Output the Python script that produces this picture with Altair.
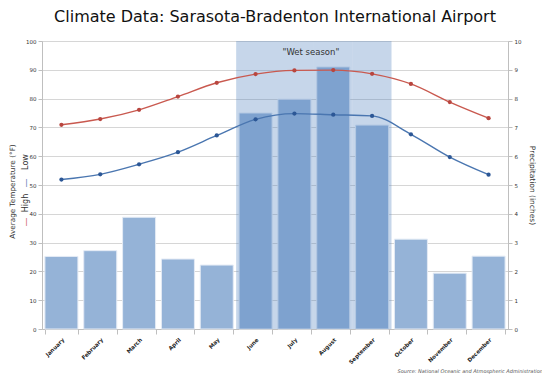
import altair as alt
import pandas as pd

months = ["January", "February", "March", "April", "May", "June",
          "July", "August", "September", "October", "November", "December"]
high = [70.9, 72.9, 76.1, 80.7, 85.5, 88.5, 89.8, 89.9, 88.6, 85.1, 78.8, 73.2]
low = [51.9, 53.7, 57.2, 61.4, 67.2, 72.8, 74.8, 74.4, 74.0, 67.6, 59.7, 53.6]
precip = [2.52, 2.72, 3.88, 2.43, 2.22, 7.50, 7.98, 9.10, 7.08, 3.12, 1.94, 2.53]
wet_months = ["June", "July", "August", "September"]

FONT = "DejaVu Sans"
PAD_IN = 0.15

df = pd.DataFrame({"month": months, "high": high, "low": low, "precip": precip})
long = pd.DataFrame({
    "month": months * 2,
    "temp": high + low,
    "series": ["High"] * 12 + ["Low"] * 12,
})
wet = pd.DataFrame({"month": wet_months, "top": [100] * 4})

xscale = alt.Scale(domain=months, paddingInner=PAD_IN, paddingOuter=PAD_IN / 2)
xenc = alt.X("month:N", scale=xscale, sort=months, title=None,
             axis=alt.Axis(labelAngle=-45, labelFontSize=5.5, labelFontWeight="bold",
                           labelColor="#222", labelFont=FONT, tickBand="extent",
                           domainColor="#bfbfbf", tickColor="#bfbfbf", tickSize=5,
                           labelPadding=3))
tscale = alt.Scale(domain=[0, 100], nice=False)
pscale = alt.Scale(domain=[0, 10], nice=False)

bars = alt.Chart(df).mark_bar(color="#95b3d7", stroke="#e4ebf5", strokeWidth=1).encode(
    x=xenc,
    y=alt.Y("precip:Q", scale=pscale, title="Precipitation (inches)",
            axis=alt.Axis(orient="right", grid=False, values=list(range(0, 11)),
                          labelFontSize=5.5, labelColor="#333", labelFont=FONT,
                          titleFont=FONT, titleFontSize=7.5, titleFontWeight="normal",
                          titleColor="#333", domainColor="#bfbfbf", tickColor="#bfbfbf",
                          tickSize=4, titlePadding=7)),
)

wetrect = alt.Chart(wet).mark_bar(color="#4f81bd", opacity=0.32,
                                  width=alt.RelativeBandSize(1 / (1 - PAD_IN))).encode(
    x=alt.X("month:N", scale=xscale, sort=months),
    y=alt.Y("top:Q", scale=tscale, title="Average Temperature (°F)",
            axis=alt.Axis(orient="left", grid=True, gridColor="#d6d6d6", gridWidth=1.2,
                          values=list(range(0, 101, 10)), labelFontSize=5.5,
                          labelColor="#333", labelFont=FONT, titleFont=FONT,
                          titleFontSize=7.3, titleFontWeight="normal", titleColor="#333",
                          domainColor="#bfbfbf", tickColor="#bfbfbf", tickSize=4,
                          titlePadding=9, titleY=150)),
)

color = alt.Color("series:N", scale=alt.Scale(domain=["High", "Low"],
                                              range=["#c9594f", "#4a76b0"]), legend=None)
lines = alt.Chart(long).mark_line(interpolate="monotone", strokeWidth=1.4).encode(
    x=alt.X("month:N", scale=xscale, sort=months),
    y=alt.Y("temp:Q", scale=tscale, axis=None),
    color=color,
)
points = alt.Chart(long).mark_point(filled=True, size=18, opacity=1).encode(
    x=alt.X("month:N", scale=xscale, sort=months),
    y=alt.Y("temp:Q", scale=tscale, axis=None),
    color=alt.Color("series:N", scale=alt.Scale(domain=["High", "Low"],
                                                range=["#b8463f", "#2c5796"]), legend=None),
)

wet_label = alt.Chart(pd.DataFrame({"month": ["July"], "t": [96.3], "label": ['"Wet season"']})).mark_text(
    font=FONT, fontSize=8.5, color="#333", baseline="middle").encode(
    x=alt.X("month:N", scale=xscale, sort=months, bandPosition=1),
    y=alt.Y("t:Q", scale=tscale, axis=None),
    text="label:N",
)

leg_df = pd.DataFrame({"d": ["—", "—"], "yy": [181, 142], "c": ["#c9594f", "#4a76b0"],
                       "name": ["High", "Low"], "ny": [162, 121]})
leg_dash = alt.Chart(leg_df).mark_text(font=FONT, fontSize=9, angle=270, baseline="middle",
                                       align="center", x=-16).encode(
    y=alt.Y("yy:Q", scale=None), text="d:N", color=alt.Color("c:N", scale=None))
leg_name = alt.Chart(leg_df).mark_text(font=FONT, fontSize=8, angle=270, baseline="middle",
                                       align="center", x=-16, color="#333").encode(
    y=alt.Y("ny:Q", scale=None), text="name:N")

source = alt.Chart(pd.DataFrame({"s": ["Source: National Oceanic and Atmospheric Administration"]})).mark_text(
    font=FONT, fontSize=5, fontStyle="italic", color="#555", align="right", baseline="middle",
    x=501, y=330).encode(text="s:N")

chart = alt.layer(bars, wetrect, lines, points, wet_label, leg_dash, leg_name, source).resolve_scale(
    y="independent", color="independent"
).properties(
    width=466, height=288,
    title=alt.Title("Climate Data: Sarasota-Bradenton International Airport",
                    font=FONT, fontSize=16, fontWeight="normal", color="#111", offset=14),
    autosize=alt.AutoSizeParams(type="none"),
    padding={"left": 34, "top": 33, "right": 34, "bottom": 50},
).configure_view(stroke=None).configure(background="white")

chart.save("out.html", embed_options={"renderer": "svg", "actions": False})
